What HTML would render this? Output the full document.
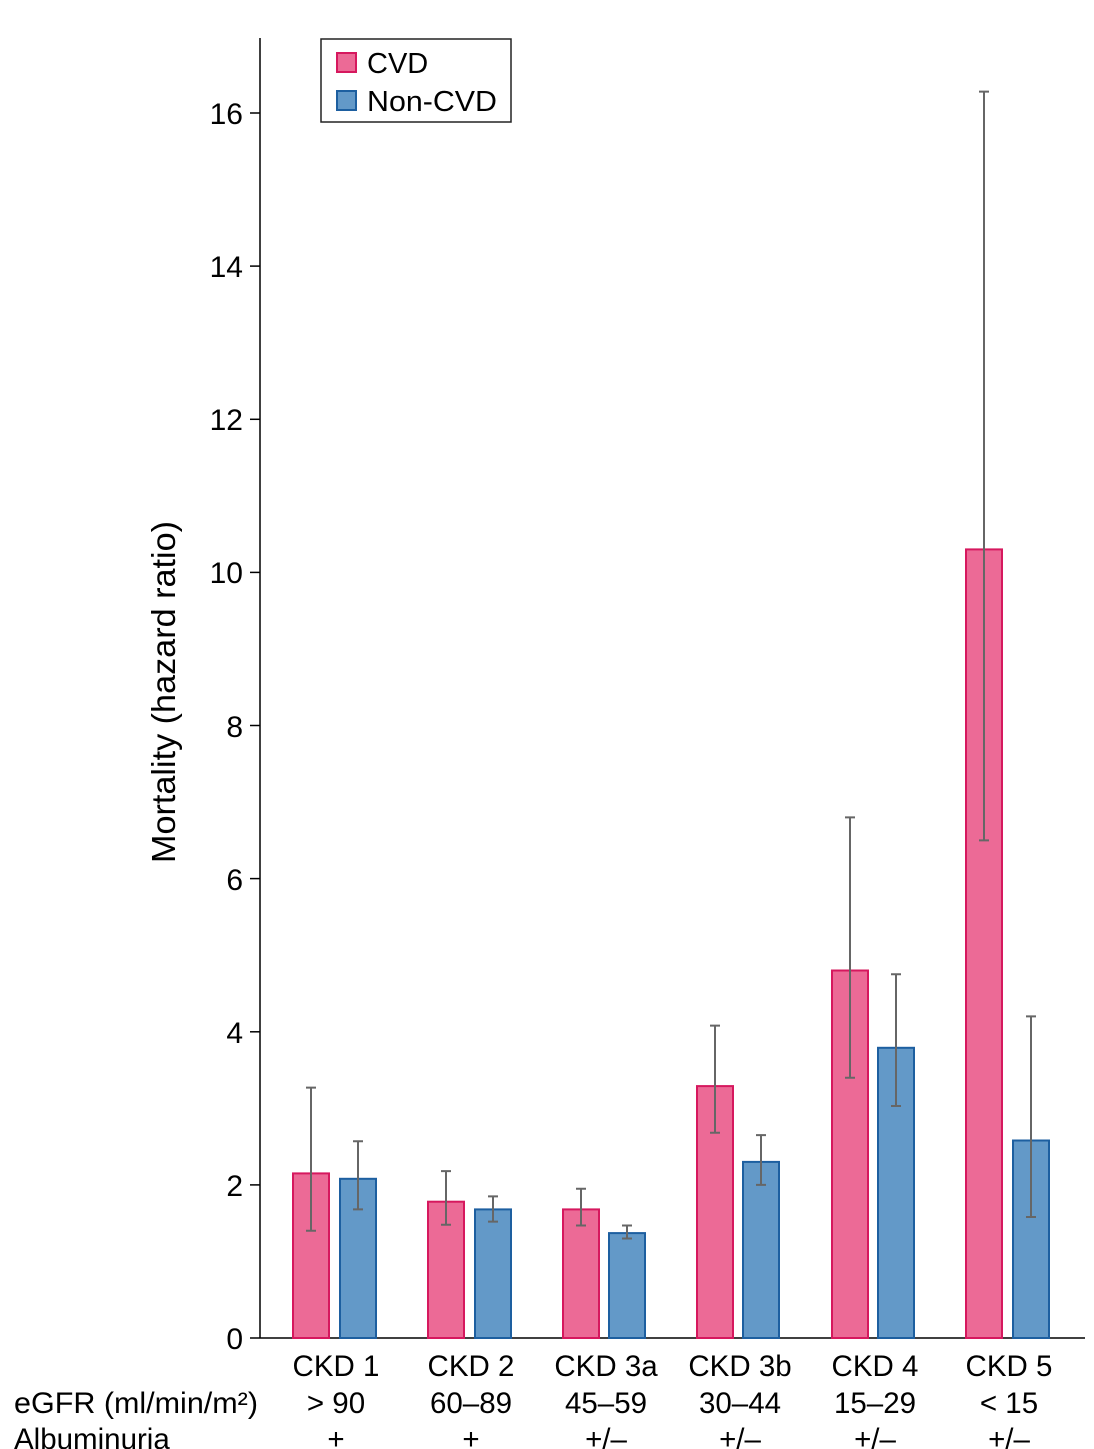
<!DOCTYPE html>
<html><head><style>body{margin:0;background:#fff}svg{display:block}text{font-family:"Liberation Sans",Arial,sans-serif;fill:#000}</style></head>
<body>
<svg width="1094" height="1449" viewBox="0 0 1094 1449" xmlns="http://www.w3.org/2000/svg">
<g stroke="#000" stroke-width="1.5">
<line x1="260" y1="38" x2="260" y2="1338"/>
<line x1="260" y1="1338" x2="1085" y2="1338"/>
<line x1="250" y1="1338" x2="260" y2="1338"/>
<line x1="250" y1="1184.9" x2="260" y2="1184.9"/>
<line x1="250" y1="1031.8" x2="260" y2="1031.8"/>
<line x1="250" y1="878.6" x2="260" y2="878.6"/>
<line x1="250" y1="725.5" x2="260" y2="725.5"/>
<line x1="250" y1="572.4" x2="260" y2="572.4"/>
<line x1="250" y1="419.3" x2="260" y2="419.3"/>
<line x1="250" y1="266.1" x2="260" y2="266.1"/>
<line x1="250" y1="113" x2="260" y2="113"/>
</g>
<g font-size="30" text-anchor="end">
<text x="243" y="1349">0</text><text x="243" y="1196">2</text><text x="243" y="1043">4</text><text x="243" y="890">6</text><text x="243" y="737">8</text><text x="243" y="583">10</text><text x="243" y="430">12</text><text x="243" y="277">14</text><text x="243" y="124">16</text>
</g>
<text transform="translate(175,692) rotate(-90)" font-size="33" text-anchor="middle" textLength="342" lengthAdjust="spacingAndGlyphs">Mortality (hazard ratio)</text>
<g fill="#ec6a96" stroke="#d6185e" stroke-width="2">
<rect x="293" y="1173.4" width="36" height="164.6"/>
<rect x="428" y="1201.7" width="36" height="136.3"/>
<rect x="563" y="1209.4" width="36" height="128.6"/>
<rect x="697" y="1086.1" width="36" height="251.9"/>
<rect x="832" y="970.5" width="36" height="367.5"/>
<rect x="966" y="549.4" width="36" height="788.6"/>
</g>
<g fill="#6399c8" stroke="#1d5fa0" stroke-width="2">
<rect x="340" y="1178.8" width="36" height="159.2"/>
<rect x="475" y="1209.4" width="36" height="128.6"/>
<rect x="609" y="1233.1" width="36" height="104.9"/>
<rect x="743" y="1161.9" width="36" height="176.1"/>
<rect x="878" y="1047.8" width="36" height="290.2"/>
<rect x="1013" y="1140.5" width="36" height="197.5"/>
</g>
<g stroke="#666" stroke-width="2" fill="none">
<path d="M311 1230.8V1087.6M306 1230.8h10M306 1087.6h10"/>
<path d="M358 1209.4V1141.2M353 1209.4h10M353 1141.2h10"/>
<path d="M446 1224.7V1171.1M441 1224.7h10M441 1171.1h10"/>
<path d="M493 1221.6V1196.4M488 1221.6h10M488 1196.4h10"/>
<path d="M581 1225.5V1188.7M576 1225.5h10M576 1188.7h10"/>
<path d="M627 1238.5V1225.5M622 1238.5h10M622 1225.5h10"/>
<path d="M715 1132.8V1025.6M710 1132.8h10M710 1025.6h10"/>
<path d="M761 1184.9V1135.1M756 1184.9h10M756 1135.1h10"/>
<path d="M850 1077.7V817.4M845 1077.7h10M845 817.4h10"/>
<path d="M896 1106V974.3M891 1106h10M891 974.3h10"/>
<path d="M984 840.4V91.6M979 840.4h10M979 91.6h10"/>
<path d="M1031 1217V1016.4M1026 1217h10M1026 1016.4h10"/>
</g>
<rect x="321" y="39" width="190" height="83" fill="#fff" stroke="#222" stroke-width="1.5"/>
<rect x="337" y="53" width="19" height="19" fill="#ec6a96" stroke="#d6185e" stroke-width="2"/>
<rect x="337" y="91" width="19" height="19" fill="#6399c8" stroke="#1d5fa0" stroke-width="2"/>
<text x="367" y="73" font-size="29">CVD</text>
<text x="367" y="111" font-size="29" textLength="130" lengthAdjust="spacingAndGlyphs">Non-CVD</text>
<g font-size="29.5" text-anchor="middle">
<text x="336" y="1376">CKD 1</text><text x="471" y="1376">CKD 2</text><text x="606" y="1376">CKD 3a</text><text x="740" y="1376">CKD 3b</text><text x="875" y="1376">CKD 4</text><text x="1009" y="1376">CKD 5</text>
<text x="336" y="1413">&gt; 90</text><text x="471" y="1413">60–89</text><text x="606" y="1413">45–59</text><text x="740" y="1413">30–44</text><text x="875" y="1413">15–29</text><text x="1009" y="1413">&lt; 15</text>
<text x="336" y="1449">+</text><text x="471" y="1449">+</text><text x="606" y="1449">+/–</text><text x="740" y="1449">+/–</text><text x="875" y="1449">+/–</text><text x="1009" y="1449">+/–</text>
</g>
<text x="14" y="1413" font-size="29.5" textLength="244" lengthAdjust="spacingAndGlyphs">eGFR (ml/min/m²)</text>
<text x="14" y="1449" font-size="29.5">Albuminuria</text>
</svg>
</body></html>
